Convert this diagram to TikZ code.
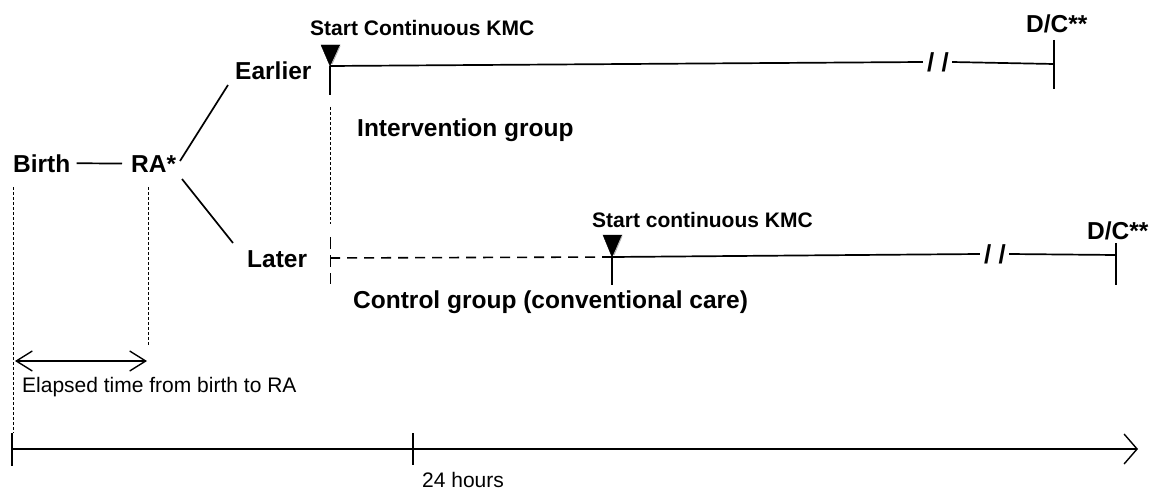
\documentclass[tikz,border=0pt]{standalone}
\usepackage{fontspec}
\setmainfont{Liberation Sans}
\usetikzlibrary{arrows.meta}
\begin{document}
\begin{tikzpicture}[x=1pt,y=-1pt,
  big/.style={font=\fontsize{24.5}{28}\selectfont\bfseries, inner sep=0pt, anchor=base west},
  mid/.style={font=\fontsize{21}{25}\selectfont\bfseries, inner sep=0pt, anchor=base west},
  plain/.style={font=\fontsize{21}{25}\selectfont, inner sep=0pt, anchor=base west},
  brk/.style={font=\fontsize{26}{30}\selectfont\bfseries, inner sep=0pt},
  solidline/.style={line width=1.7pt},
  thinline/.style={line width=1pt},
  thindash/.style={line width=0.8pt, dash pattern=on 3pt off 2pt},
  longdash/.style={line width=1.6pt, dash pattern=on 10pt off 7pt},
  marker/.style={fill=black, draw=black, line width=0.4pt},
  barbs/.style={{Straight Barb[length=16pt,width=20pt,line width=1.4pt]}-{Straight Barb[length=16pt,width=20pt,line width=1.4pt]}},
  axisarrow/.style={-{Straight Barb[length=13pt,width=30pt,line width=1.4pt]}}
]
\useasboundingbox (0,0) rectangle (1151,492);

% left part
\node[big] (birth) at (13,172) {Birth};
\node[big] (ra) at (131,172) {RA*};
\node[big] (earlier) at (235,80) {Earlier};
\node[big] (later) at (247,267) {Later};
\draw[solidline] ([xshift=6pt]birth.east) -- ([xshift=-9pt]ra.west);
\coordinate (raU) at (180,161);
\coordinate (raD) at (182,179);
\coordinate (eaL) at (228,85);
\coordinate (laL) at (233,243);
\draw[solidline] (raU) -- (eaL);
\draw[solidline] (raD) -- (laL);

% dashed guides
\coordinate (bTop) at (13,187);
\coordinate (bBot) at (13,433);
\coordinate (rTop) at (148,187);
\coordinate (rBot) at (148,345);
\draw[thindash] (bTop) -- (bBot);
\draw[thindash] (rTop) -- (rBot);
\coordinate (dL) at (15,361);
\coordinate (dR) at (147,361);
\draw[barbs, line width=1.4pt] (dL) -- (dR);
\node[plain] (elapsed) at (22,392) {Elapsed time from birth to RA};

% intervention group
\coordinate (iStart) at (330,66);
\coordinate (iSolidEnd) at (330,95);
\coordinate (iDashTop) at (330,107);
\coordinate (iDashMid) at (330,224);
\coordinate (iDash2Top) at (330,237);
\coordinate (iDash2Bot) at (330,284);
\fill[marker] (321,45) -- (340,45) -- (330,66) -- cycle;
\draw[gray!60, line width=1pt] (340,46) -- (332,64);
\node[mid] (startI) at (310,36) {Start Continuous KMC};
\draw[solidline] (iStart) -- (iSolidEnd);
\draw[thindash] (iDashTop) -- (iDashMid);
\draw[thinline, dash pattern=on 12pt off 6pt] (iDash2Top) -- (iDash2Bot);
\node[brk] (brkI) at (938,62) {/ /};
\coordinate (dcIx) at (1054,64);
\draw[solidline] (iStart) -- ([xshift=-4pt]brkI.west);
\draw[solidline] ([xshift=3pt]brkI.east) -- (dcIx);
\node[big] (dcI) at (1026,33) {D/C**};
\draw[solidline] (1054,40) -- (1054,89);
\node[big] (intervention) at (357,137) {Intervention group};

% control group
\coordinate (cDashStart) at (330,258);
\coordinate (cStart) at (612,257);
\coordinate (cTickBot) at (612,285);
\draw[longdash] (cDashStart) -- (cStart);
\fill[marker] (603,235) -- (622,235) -- (612,257) -- cycle;
\draw[gray!60, line width=1pt] (622,236) -- (614,255);
\node[mid] (startC) at (592,227) {Start continuous KMC};
\draw[solidline] (cStart) -- (cTickBot);
\node[brk] (brkC) at (995,254) {/ /};
\coordinate (dcCx) at (1116,255);
\draw[solidline] (cStart) -- ([xshift=-4pt]brkC.west);
\draw[solidline] ([xshift=3pt]brkC.east) -- (dcCx);
\node[big] (dcC) at (1087,239) {D/C**};
\draw[solidline] (1116,243) -- (1116,285);
\node[big] (control) at (353,308) {Control group (conventional care)};

% time axis
\coordinate (axL) at (12,449);
\coordinate (axR) at (1138,449);
\coordinate (t24) at (413,449);
\draw[axisarrow, line width=1.5pt] (axL) -- (axR);
\draw[thinline, line width=1.2pt] (12,433) -- (12,466);
\draw[thinline, line width=1.2pt] (413,433) -- (413,465);
\node[plain] (hours) at (422,487) {24 hours};
\end{tikzpicture}
\end{document}
